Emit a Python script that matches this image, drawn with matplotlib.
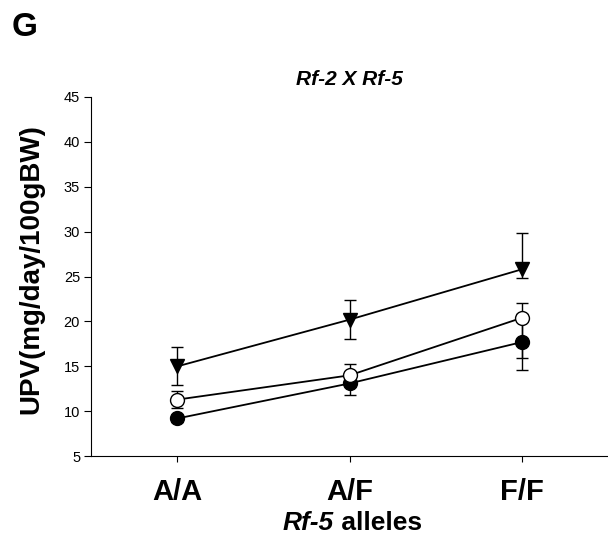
import matplotlib
matplotlib.use("Agg")
import matplotlib.pyplot as plt

plt.rcParams['font.family'] = ['Liberation Sans', 'DejaVu Sans']

genotypes = ["A/A", "A/F", "F/F"]

# mean UPV and lower / upper error for each group
tri_mean = [15.0, 20.2, 25.8]
tri_lo = [2.1, 2.1, 1.0]
tri_hi = [2.2, 2.2, 4.0]

open_mean = [11.3, 14.0, 20.4]
open_lo = [0.9, 0.9, 4.5]
open_hi = [1.0, 1.3, 1.6]

fill_mean = [9.2, 13.1, 17.7]
fill_lo = [0.4, 1.3, 3.1]
fill_hi = [0.4, 1.3, 3.1]

yticks = [5, 10, 15, 20, 25, 30, 35, 40, 45]

fig = plt.figure(figsize=(6.08, 5.47), dpi=100)
ax = fig.add_axes([0.150, 0.166, 0.85, 0.657])

xs = [1, 2, 3]
common = dict(color="black", ecolor="black", elinewidth=1.0, capsize=4,
              capthick=1.0, linewidth=1.3, markersize=10)
ax.errorbar(xs, fill_mean, yerr=[fill_lo, fill_hi], fmt="-o",
            markerfacecolor="black", markeredgecolor="black", zorder=3, **common)
ax.errorbar(xs, open_mean, yerr=[open_lo, open_hi], fmt="-o",
            markerfacecolor="white", markeredgecolor="black", zorder=4, **common)
ax.errorbar(xs, tri_mean, yerr=[tri_lo, tri_hi], fmt="-v",
            markerfacecolor="black", markeredgecolor="black", zorder=5, **common)

ax.set_xlim(0.5, 3.5)
ax.set_ylim(5, 45)
ax.set_yticks(yticks)
ax.set_xticks(xs)
ax.set_xticklabels(genotypes, fontsize=21, fontweight="bold")
ax.tick_params(axis="y", labelsize=10.5, direction="out", length=5, pad=3)
ax.tick_params(axis="x", direction="out", length=4, pad=12)
ax.spines["top"].set_visible(False)
ax.spines["right"].set_visible(False)

ax.set_ylabel("UPV(mg/day/100gBW)", fontsize=20, fontweight="bold")
ax.yaxis.set_label_coords(-0.091, 0.52)

# x label: italic gene name followed by plain bold word
fig.text(0.549, 0.044, "Rf-5", fontsize=19, fontweight="bold",
         fontstyle="italic", ha="right", va="center")
fig.text(0.549, 0.044, " alleles", fontsize=19, fontweight="bold",
         ha="left", va="center")

fig.text(0.575, 0.855, "Rf-2 X Rf-5", fontsize=15, fontweight="bold",
         fontstyle="italic", ha="center", va="center")
fig.text(0.04, 0.95, "G", fontsize=24, fontweight="bold", ha="center", va="center")

fig.savefig("out.png", dpi=100)
